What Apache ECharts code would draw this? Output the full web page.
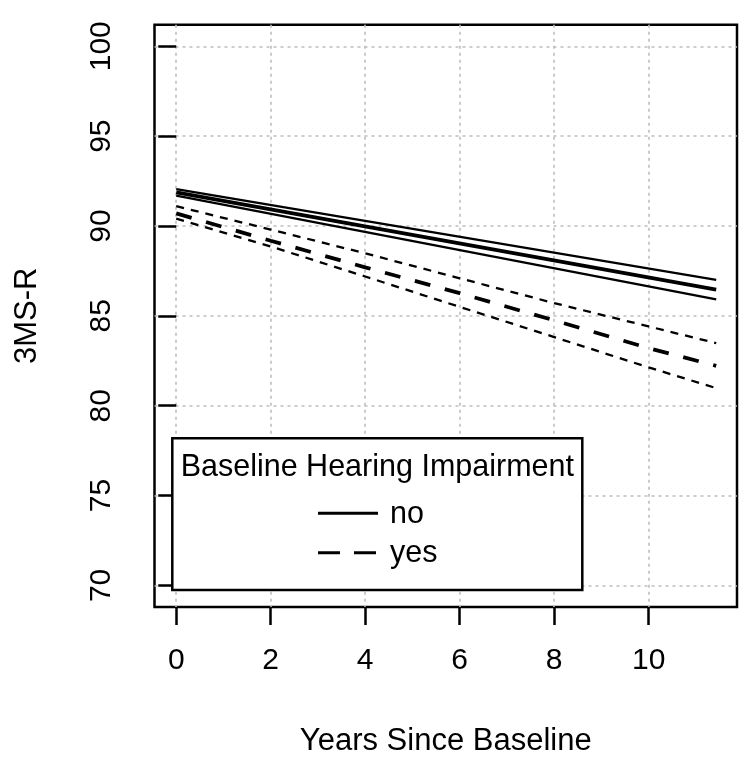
<!DOCTYPE html>
<html>
<head>
<meta charset="utf-8">
<script src="https://cdn.jsdelivr.net/npm/echarts@6/dist/echarts.min.js"></script>
<style>html,body{margin:0;padding:0;background:#fff}#c{width:750px;height:775px}</style>
</head>
<body>
<div id="c"></div>
<script>
// ---- data ----
const xTicks = [0, 2, 4, 6, 8, 10];
const yTicks = [70, 75, 80, 85, 90, 95, 100];
const noYears = [0, 11.43];
const noFit = [91.87, 86.46];
const noUpper = [92.05, 87.0];
const noLower = [91.69, 85.91];
const yesYears = [0, 2, 4, 6, 8, 10, 11.43];
const yesFit = [90.7, 89.18, 87.7, 86.26, 84.75, 83.2, 82.22];
const yesUpper = [91.1, 89.8, 88.48, 87.09, 85.71, 84.41, 83.48];
const yesLower = [90.41, 88.86, 87.19, 85.5, 83.82, 82.13, 80.98];
const legendTitle = 'Baseline Hearing Impairment';
const legendNames = ['no', 'yes'];

const FONT = '"Liberation Sans", Arial, Helvetica, sans-serif';
const pair = (xs, ys) => xs.map((x, i) => [x, ys[i]]);

function lineSeries(name, xs, ys, width, dash) {
  return {
    name: name, type: 'line', data: pair(xs, ys), symbol: 'none', silent: true,
    lineStyle: { color: '#000', width: width, type: dash || 'solid' }, z: 3
  };
}

const chart = echarts.init(document.getElementById('c'), null, { renderer: 'canvas' });
const gridStyle = { color: '#bdbdbd', width: 1.6, type: [3, 4] };
chart.setOption({
  animation: false,
  backgroundColor: '#fff',
  grid: { left: 154.5, top: 24.7, right: 13, bottom: 168, show: true, borderColor: '#000', borderWidth: 2.5, backgroundColor: 'transparent' },
  xAxis: {
    type: 'value', min: -0.46, max: 11.87,
    name: 'Years Since Baseline', nameLocation: 'middle', nameGap: 119,
    nameTextStyle: { fontFamily: FONT, fontSize: 31, color: '#000' },
    axisLine: { show: false },
    axisTick: { show: true, customValues: xTicks, length: 18, lineStyle: { color: '#000', width: 2.5 } },
    axisLabel: { customValues: xTicks, fontFamily: FONT, fontSize: 30, color: '#000', margin: 39 },
    splitLine: { show: true, lineStyle: gridStyle }
  },
  yAxis: {
    type: 'value', min: 68.8, max: 101.2,
    name: '3MS-R', nameLocation: 'middle', nameGap: 112, nameRotate: 90,
    nameTextStyle: { fontFamily: FONT, fontSize: 31, color: '#000' },
    axisLine: { show: false },
    axisTick: { show: true, customValues: yTicks, length: 18, lineStyle: { color: '#000', width: 2.5 } },
    axisLabel: { customValues: yTicks, rotate: 90, fontFamily: FONT, fontSize: 30, color: '#000', margin: 38 },
    splitLine: { show: true, lineStyle: gridStyle }
  },
  series: [
    lineSeries('no', noYears, noFit, 3.8),
    lineSeries('no upper', noYears, noUpper, 2.3),
    lineSeries('no lower', noYears, noLower, 2.3),
    lineSeries('yes', yesYears, yesFit, 3.8, [16, 15]),
    lineSeries('yes upper', yesYears, yesUpper, 2.3, [8, 7]),
    lineSeries('yes lower', yesYears, yesLower, 2.3, [8, 7])
  ],
  graphic: [
    { type: 'rect', z: 100, shape: { x: 172.3, y: 438.3, width: 410, height: 151.7 }, style: { fill: '#fff', stroke: '#000', lineWidth: 2.5 } },
    { type: 'text', z: 101, x: 377.3, y: 468, style: { text: legendTitle, font: '30.5px ' + FONT, fill: '#000', align: 'center', verticalAlign: 'middle' } },
    { type: 'line', z: 101, shape: { x1: 318, y1: 513.3, x2: 378, y2: 513.3 }, style: { stroke: '#000', lineWidth: 3 } },
    { type: 'line', z: 101, shape: { x1: 318, y1: 552.7, x2: 378, y2: 552.7 }, style: { stroke: '#000', lineWidth: 3, lineDash: [22, 14] } },
    { type: 'text', z: 101, x: 390, y: 515, style: { text: legendNames[0], font: '30.5px ' + FONT, fill: '#000', align: 'left', verticalAlign: 'middle' } },
    { type: 'text', z: 101, x: 390, y: 554, style: { text: legendNames[1], font: '30.5px ' + FONT, fill: '#000', align: 'left', verticalAlign: 'middle' } }
  ]
});
</script>
</body>
</html>
